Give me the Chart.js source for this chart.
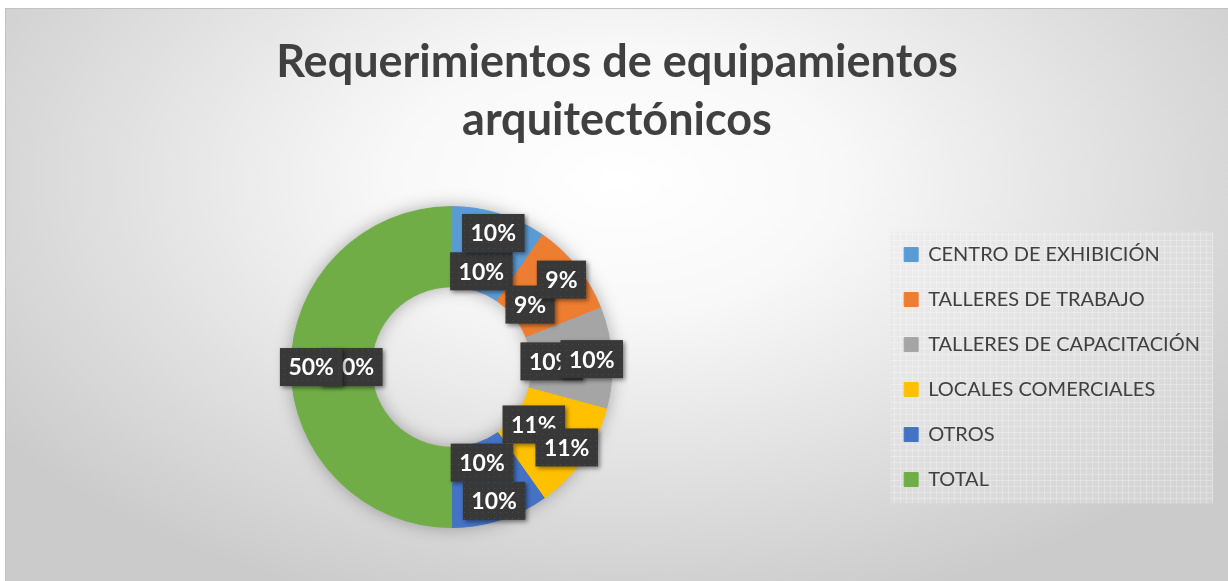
<!DOCTYPE html>
<html>
<head>
<meta charset="utf-8">
<script src="https://cdn.jsdelivr.net/npm/chart.js@4.4.0/dist/chart.umd.min.js"></script>
<style>
  html, body { margin: 0; padding: 0; background: #fff; }
  #wrap { position: relative; width: 1228px; height: 581px; overflow: hidden; }
  #frame {
    position: absolute; left: 5px; top: 8px; right: 0; bottom: 0;
    background: radial-gradient(ellipse 62% 78% at 50% 30%, #ffffff 0%, #f8f8f8 30%, #dedede 70%, #cbcbcb 100%);
    border-top: 1px solid #c2c2c2; border-left: 1px solid #c2c2c2;
  }
  canvas { position: absolute; left: 0; top: 0; }
</style>
</head>
<body>
<div id="wrap">
  <div id="frame"></div>
  <canvas id="chart" width="1228" height="581"></canvas>
</div>
<script>
const categories = [
  "CENTRO DE EXHIBICIÓN",
  "TALLERES DE TRABAJO",
  "TALLERES DE CAPACITACIÓN",
  "LOCALES COMERCIALES",
  "OTROS",
  "TOTAL",
];
// share of each item (read from the ring, percent)
const outerValues = [9.6, 9.4, 10.2, 11.0, 9.8, 50];
const innerValues = [9.6, 9.4, 10.2, 11.0, 9.8, 50];
const sliceColors = ["#5B9BD5", "#ED7D31", "#A5A5A5", "#FFC000", "#4472C4", "#70AD47"];
const titleLines = ["Requerimientos de equipamientos", "arquitectónicos"];

// dark dotted fill for the value boxes
function dotPattern(ctx) {
  const c = document.createElement("canvas");
  c.width = 6;
  c.height = 6;
  const g = c.getContext("2d");
  g.fillStyle = "#383838";
  g.fillRect(0, 0, 6, 6);
  g.fillStyle = "#4b4b4b";
  g.fillRect(2, 2, 1, 1);
  return ctx.createPattern(c, "repeat");
}

// faint grid behind the legend
function gridPattern(ctx) {
  const c = document.createElement("canvas");
  c.width = 6;
  c.height = 6;
  const g = c.getContext("2d");
  g.fillStyle = "rgba(230,230,230,0.35)";
  g.fillRect(0, 0, 6, 6);
  g.fillStyle = "rgba(255,255,255,0.25)";
  g.fillRect(0, 0, 6, 1);
  g.fillRect(0, 0, 1, 6);
  return ctx.createPattern(c, "repeat");
}

const ringShadow = {
  id: "ringShadow",
  beforeDatasetsDraw(chart) {
    const outer = chart.getDatasetMeta(0).data[0];
    const inner = chart.getDatasetMeta(1).data[0];
    if (!outer || !inner) return;
    const ctx = chart.ctx;
    ctx.save();
    ctx.shadowColor = "rgba(0,0,0,0.35)";
    ctx.shadowBlur = 18;
    ctx.fillStyle = "#9a9a9a";
    ctx.beginPath();
    ctx.arc(outer.x, outer.y, outer.outerRadius - 1, 0, Math.PI * 2);
    ctx.arc(outer.x, outer.y, inner.innerRadius + 1, 0, Math.PI * 2, true);
    ctx.fill();
    ctx.restore();
  },
};

const legendBackdrop = {
  id: "legendBackdrop",
  beforeDraw(chart) {
    const lg = chart.legend;
    if (!lg || !lg.legendHitBoxes || !lg.legendHitBoxes.length) return;
    const boxes = lg.legendHitBoxes;
    const first = boxes[0];
    const last = boxes[boxes.length - 1];
    const ctx = chart.ctx;
    const x0 = first.left - 14;
    const y0 = first.top - 13;
    const x1 = lg.right + 3;
    const y1 = last.top + last.height + 14;
    ctx.save();
    ctx.fillStyle = gridPattern(ctx);
    ctx.fillRect(x0, y0, x1 - x0, y1 - y0);
    ctx.restore();
  },
};

const pctLabels = {
  id: "pctLabels",
  afterDatasetsDraw(chart) {
    const ctx = chart.ctx;
    const fill = dotPattern(ctx);
    ctx.save();
    ctx.font = "bold 23px Lato";
    ctx.textAlign = "center";
    ctx.textBaseline = "middle";
    // inner ring first so the outer labels sit on top
    [1, 0].forEach((di) => {
      const meta = chart.getDatasetMeta(di);
      const data = chart.data.datasets[di].data;
      const total = data.reduce((a, b) => a + b, 0);
      meta.data.forEach((arc, i) => {
        const p = arc.getCenterPoint();
        const txt = Math.round((data[i] / total) * 100) + "%";
        const w = ctx.measureText(txt).width + 17;
        const h = 38;
        ctx.save();
        ctx.shadowColor = "rgba(0,0,0,0.45)";
        ctx.shadowBlur = 4;
        ctx.shadowOffsetX = 2;
        ctx.shadowOffsetY = 2;
        ctx.fillStyle = fill;
        ctx.fillRect(p.x - w / 2, p.y - h / 2, w, h);
        ctx.restore();
        ctx.fillStyle = "#ffffff";
        ctx.fillText(txt, p.x, p.y + 1);
      });
    });
    ctx.restore();
  },
};

const ctx = document.getElementById("chart").getContext("2d");
new Chart(ctx, {
  type: "doughnut",
  data: {
    labels: categories,
    datasets: [
      {
        label: "Exterior",
        data: outerValues,
        backgroundColor: sliceColors,
        borderColor: sliceColors,
        borderWidth: 1,
      },
      {
        label: "Interior",
        data: innerValues,
        backgroundColor: sliceColors,
        borderColor: sliceColors,
        borderWidth: 1,
      },
    ],
  },
  options: {
    responsive: false,
    animation: false,
    cutout: "50%",
    layout: { padding: { left: 24, right: 18, top: 0, bottom: 53 } },
    plugins: {
      title: {
        display: true,
        text: titleLines,
        color: "#404040",
        font: { family: "Lato", size: 45, weight: "bold", lineHeight: 1.29 },
        padding: { top: 33, bottom: 57 },
      },
      legend: {
        position: "right",
        fullSize: false,
        labels: {
          boxWidth: 14,
          boxHeight: 14,
          padding: 25,
          color: "#404040",
          font: { family: "Lato", size: 20 },
        },
      },
      tooltip: { enabled: false },
    },
  },
  plugins: [legendBackdrop, ringShadow, pctLabels],
});
</script>
</body>
</html>
